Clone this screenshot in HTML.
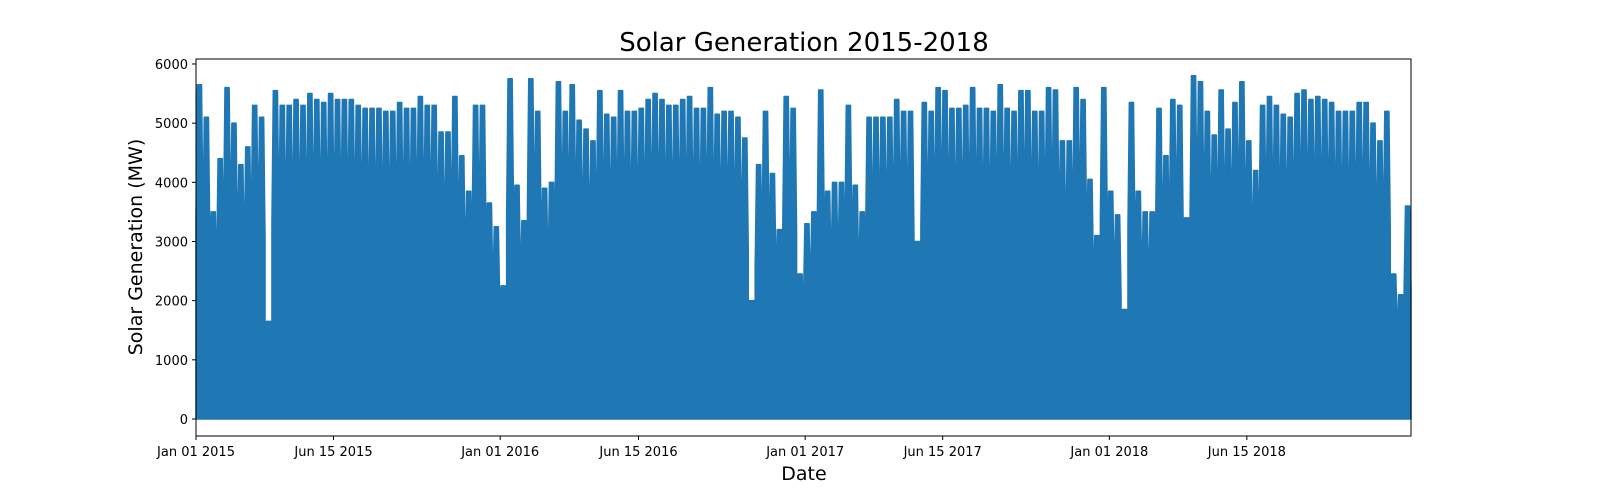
<!DOCTYPE html>
<html>
<head>
<meta charset="utf-8">
<style>
  html,body{margin:0;padding:0;background:#fff;}
  svg{display:block;font-family:"DejaVu Sans","Liberation Sans",sans-serif;}
</style>
</head>
<body>
<svg id="chart" width="1600" height="500" viewBox="0 0 1600 500" xmlns="http://www.w3.org/2000/svg">
  <rect x="0" y="0" width="1600" height="500" fill="#fff"/>
  <text x="804" y="51" font-size="26" text-anchor="middle" fill="#000">Solar Generation 2015-2018</text>
  <g id="series"></g>
  <rect x="196" y="59" width="1215" height="377" fill="none" stroke="#000" stroke-width="1"/>
  <g id="yaxis"></g>
  <g id="xaxis"></g>
  <text x="0" y="0" font-size="19" text-anchor="middle" transform="translate(142,247) rotate(-90)">Solar Generation (MW)</text>
  <text x="804" y="480" font-size="19" text-anchor="middle">Date</text>
</svg>
<script>
// Roughly every 8.3 days: the peak generation in MW
const peaks2015_2016 = [5650,5100,3500,4400,5600,5000,4300,4600,5300,5100,1650,5550,5300,5300,5400,5300,5500,5400,5350,5500,5400,5400,5400,5300,5250,5250,5250,5200,5200,5350,5250,5250,5450,5300,5300,4850,4850,5450,4450,3850,5300,5300,3650,3250,2250,5750,3950,3350,5750,5200,3900,4000,5700,5200,5650,5050,4900,4700,5550,5150,5100,5550,5200,5200,5250,5400,5500,5400,5300,5300,5400,5450,5250,5250,5600,5150,5200,5200,5100,4750,2000,4300,5200,4150,3200,5450,5250,2450];
const peaks2017_2018 = [3300,3500,5560,3850,4000,4000,5300,3950,3500,5100,5100,5100,5100,5400,5200,5200,3000,5350,5200,5600,5550,5250,5250,5300,5600,5250,5250,5200,5650,5250,5200,5550,5550,5200,5200,5600,5560,4700,4700,5600,5400,4050,3100,5600,3850,3450,1850,5350,3850,3500,3500,5250,4450,5400,5300,3400,5800,5700,5200,4800,5560,4900,5350,5700,4700,4200,5300,5450,5300,5150,5100,5500,5560,5400,5450,5400,5350,5200,5200,5200,5350,5350,5000,4700,5200,2450,2100,3600];
const yTicks = [0,1000,2000,3000,4000,5000,6000];
const xTickLabels = ["Jan 01 2015","Jun 15 2015","Jan 01 2016","Jun 15 2016","Jan 01 2017","Jun 15 2017","Jan 01 2018","Jun 15 2018"];
const xTickDates = ["2015-01-01","2015-06-15","2016-01-01","2016-06-15","2017-01-01","2017-06-15","2018-01-01","2018-06-15"];

const NS = "http://www.w3.org/2000/svg";
const t0 = Date.UTC(2015,0,1), t1 = Date.UTC(2018,11,28,23);
const X0 = 196, X1 = 1411, Y0 = 419, YPER = 59.17/1000;
function xScale(t){ return X0 + (t - t0)/(t1 - t0)*(X1 - X0); }
function yScale(v){ return Y0 - v*YPER; }
function mk(tag, attrs){ const e=document.createElementNS(NS,tag); for(const k in attrs) e.setAttribute(k,attrs[k]); return e; }

const values = peaks2015_2016.concat(peaks2017_2018);
const n = values.length;
const step = (t1 - t0)/n;
let d = "M" + xScale(t0).toFixed(2) + "," + yScale(0).toFixed(2);
values.forEach((v,i)=>{
  const a = xScale(t0 + i*step), b = xScale(t0 + (i+1)*step);
  const w = b - a;
  d += " L" + a.toFixed(2) + "," + yScale(v*0.6).toFixed(2);
  d += " L" + (a + w*0.2).toFixed(2) + "," + yScale(v).toFixed(2);
  d += " L" + (a + w*0.8).toFixed(2) + "," + yScale(v).toFixed(2);
  d += " L" + b.toFixed(2) + "," + yScale(v*0.6).toFixed(2);
});
d += " L" + xScale(t1).toFixed(2) + "," + yScale(0).toFixed(2) + " Z";
const area = mk("path",{d:d, fill:"#1f77b4", stroke:"#1f77b4", "stroke-width":"1.5", "stroke-linejoin":"round"});


document.getElementById("series").appendChild(area);

const ya = document.getElementById("yaxis");
yTicks.forEach(v=>{
  const y = yScale(v);
  const tk = mk("line",{x1:X0-4,x2:X0,y1:y,y2:y,stroke:"#000","stroke-width":"1"});
  
  
  ya.appendChild(tk);
  const tx = mk("text",{x:X0-8,y:y+5,"font-size":"13","text-anchor":"end"});
  
  
  tx.textContent = v;
  ya.appendChild(tx);
});
const xa = document.getElementById("xaxis");
xTickDates.forEach((s,i)=>{
  const p = s.split("-").map(Number);
  const x = xScale(Date.UTC(p[0],p[1]-1,p[2]));
  const tk = mk("line",{x1:x,x2:x,y1:436,y2:440,stroke:"#000","stroke-width":"1"});
  
  
  xa.appendChild(tk);
  const tx = mk("text",{x:x,y:456,"font-size":"13","text-anchor":"middle"});
  
  
  tx.textContent = xTickLabels[i];
  xa.appendChild(tx);
});
</script>
</body>
</html>
